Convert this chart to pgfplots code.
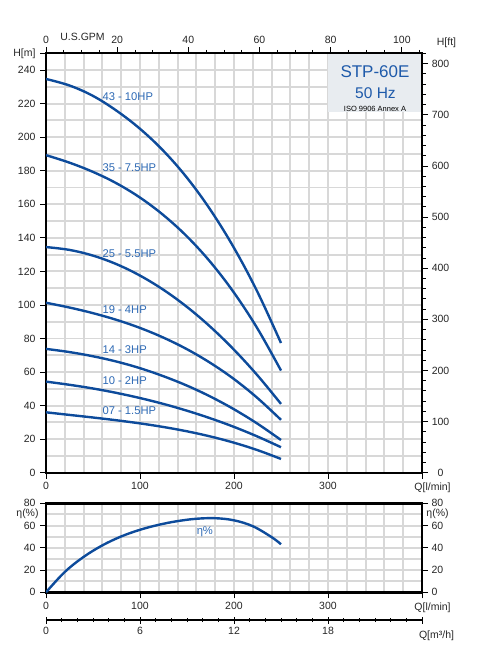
\documentclass[border=0pt]{standalone}
\usepackage{fontspec}
\setmainfont{Liberation Sans}
\usepackage{pgfplots}
\pgfplotsset{compat=1.18}
\definecolor{crvc}{RGB}{13,75,155}
\definecolor{lblc}{RGB}{45,105,180}
\definecolor{gridc}{RGB}{216,216,216}
\definecolor{boxc}{RGB}{232,236,240}
\definecolor{ttlc}{RGB}{30,90,170}
\pgfplotsset{
  /pgf/number format/assume math mode=true,
  every axis/.append style={scale only axis, font=\fontsize{10.5}{12}\selectfont},
  tick label style={font=\fontsize{10.5}{12}\selectfont, text=black!85},
  tick align=outside,
  major tick length=6pt, minor tick length=3.5pt,
  tick style={black, line width=0.8pt},
  crv/.style={crvc, line width=2.4pt, smooth, tension=0.6, no markers},
  gridonly/.style={xticklabels={}, yticklabels={}, grid=major,
    major grid style={draw=gridc, line width=1.9pt}, major tick length=0.3pt,
    axis line style={draw=none}},
}
\tikzset{lbl/.style={lblc, font=\fontsize{11.2}{13}\selectfont, inner sep=0pt, anchor=west}}
\begin{document}
\begin{tikzpicture}
\useasboundingbox (0,0) rectangle (481pt,-655pt);

% ---------- main grid ----------
\begin{axis}[at={(46pt,-53.3pt)}, anchor=north west, width=376pt, height=419.4pt,
  xmin=0, xmax=400, ymin=0, ymax=250,
  xtick={0,20,...,400}, ytick={0,10,...,250}, gridonly]
\end{axis}

% ---------- main head chart ----------
\begin{axis}[at={(46pt,-53.3pt)}, anchor=north west, width=376pt, height=419.4pt,
  xmin=0, xmax=400, ymin=0, ymax=250,
  xtick={0,100,200,300,400}, xticklabels={0,100,200,300,},
  ytick={0,20,...,240,250},
  yticklabels={0,20,40,60,80,100,120,140,160,180,200,220,240,H[m]},
  xtick pos=bottom, ytick pos=left,
  axis line style={line width=2.2pt},
  yticklabel style={xshift=-1pt},
]
\addplot[crv] coordinates {(0,234.7) (25,230.8) (50,224.6) (75,215.8) (100,205.0) (125,191.8) (150,175.8) (175,156.6) (200,134.0) (225,107.7) (250,77.3)};
\addplot[crv] coordinates {(0,189.3) (25,184.8) (50,179.3) (75,172.5) (100,164.0) (125,153.5) (150,140.8) (175,125.5) (200,107.3) (225,85.9) (250,60.9)};
\addplot[crv] coordinates {(0,134.5) (25,132.8) (50,129.4) (75,124.3) (100,117.5) (125,109.0) (150,98.8) (175,86.9) (200,73.3) (225,58.0) (250,41.0)};
\addplot[crv] coordinates {(0,101.3) (25,98.45) (50,95.1) (75,91.1) (100,86.3) (125,80.5) (150,73.6) (175,65.4) (200,55.8) (225,44.5) (250,31.5)};
\addplot[crv] coordinates {(0,73.8) (25,71.9) (50,69.4) (75,66.25) (100,62.3) (125,57.5) (150,51.9) (175,45.35) (200,37.8) (225,29.2) (250,19.5)};
\addplot[crv] coordinates {(0,54.3) (25,52.4) (50,50.2) (75,47.56) (100,44.5) (125,40.98) (150,36.95) (175,32.4) (200,27.3) (225,21.55) (250,15.2)};
\addplot[crv] coordinates {(0,36.0) (25,34.45) (50,32.9) (75,31.25) (100,29.4) (125,27.24) (150,24.67) (175,21.58) (200,17.88) (225,13.46) (250,8.2)};
\node[lbl] at (axis cs:60,224.4) {43 - 10HP};
\node[lbl] at (axis cs:60,181.7) {35 - 7.5HP};
\node[lbl] at (axis cs:60,130.8) {25 - 5.5HP};
\node[lbl] at (axis cs:60,97.4) {19 - 4HP};
\node[lbl] at (axis cs:60,73.1) {14 - 3HP};
\node[lbl] at (axis cs:60,54.7) {10 - 2HP};
\node[lbl] at (axis cs:60,36.8) {07 - 1.5HP};
\fill[boxc] (axis cs:300,215) rectangle ([xshift=-1.1pt,yshift=-1.1pt]axis cs:400,250);
\node[ttlc, font=\fontsize{17}{19}\selectfont] at (axis cs:350,238.9) {STP-60E};
\node[ttlc, font=\fontsize{15.5}{17}\selectfont] at (axis cs:350.5,226.5) {50 Hz};
\node[black, font=\fontsize{7.5}{9}\selectfont] at (axis cs:350,216.9) {ISO 9906 Annex A};
\end{axis}

% ---------- top (US GPM) and right (ft) scales ----------
\begin{axis}[at={(46pt,-53.3pt)}, anchor=north west, width=376pt, height=419.4pt,
  xmin=0, xmax=105.669, ymin=0, ymax=820.21,
  axis x line*=top, axis y line*=right, axis line style={draw=none},
  xtick={0,20,...,100}, minor xtick={5,10,...,105},
  ytick={0,100,...,800}, minor ytick={20,40,...,820},
  yticklabel style={text width=18pt, align=center},
]
\end{axis}

% ---------- efficiency grid ----------
\begin{axis}[at={(46pt,-503.3pt)}, anchor=north west, width=376pt, height=89pt,
  xmin=0, xmax=400, ymin=0, ymax=80,
  xtick={0,20,...,400}, ytick={0,10,...,80}, gridonly]
\end{axis}

% ---------- efficiency ----------
\begin{axis}[at={(46pt,-503.3pt)}, anchor=north west, width=376pt, height=89pt,
  xmin=0, xmax=400, ymin=0, ymax=80,
  xtick={0,100,200,300,400}, xticklabels={0,100,200,300,},
  ytick={0,20,...,80},
  xtick pos=bottom, ytick pos=left,
  axis line style={line width=2.6pt},
  yticklabel style={xshift=-1pt},
]
\addplot[crv] coordinates {(0,0) (20,18.3) (40,31.8) (60,42.2) (80,50.2) (100,56.2) (120,60.7) (140,64.0) (160,66.1) (180,66.6) (200,64.7) (220,59.4) (240,49.6) (250,43.2)};
\node[lblc, font=\fontsize{11.2}{13}\selectfont] at (axis cs:169,54.5) {η\%};
\end{axis}
\begin{axis}[at={(46pt,-503.3pt)}, anchor=north west, width=376pt, height=89pt,
  xmin=0, xmax=400, ymin=0, ymax=80,
  hide x axis, axis y line*=right, axis line style={draw=none},
  ytick={0,20,...,80},
]
\end{axis}

% ---------- m3/h scale ----------
\begin{axis}[at={(46pt,-620pt)}, anchor=south west, width=376pt, height=10pt,
  xmin=0, xmax=24, ymin=0, ymax=1,
  hide y axis, axis x line=bottom,
  axis line style={-, line width=2.4pt},
  xtick={0,6,...,24}, xticklabels={0,6,12,18,},
  minor xtick={1,2,...,23},
  major tick length=7pt, minor tick length=4pt,
]
\end{axis}

% ---------- axis titles ----------
\begin{scope}[font=\fontsize{10.5}{12}\selectfont, text=black!85]
\node at (432.5pt,-488pt) {Q[l/min]};
\node at (432.5pt,-607.7pt) {Q[l/min]};
\node at (436.5pt,-636pt) {Q[m³/h]};
\node at (82.5pt,-37.3pt) {U.S.GPM};
\node at (446.5pt,-43pt) {H[ft]};
\node at (27.5pt,-514pt) {η(\%)};
\node at (437.5pt,-514pt) {η(\%)};
\end{scope}
\end{tikzpicture}
\end{document}
